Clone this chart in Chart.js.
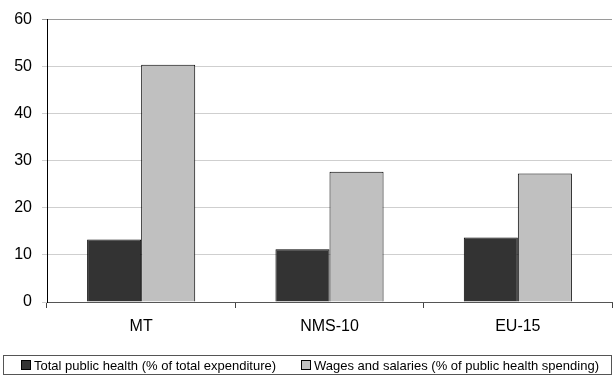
<!DOCTYPE html>
<html>
<head>
<meta charset="utf-8">
<script src="https://cdn.jsdelivr.net/npm/chart.js@4"></script>
<style>
  html, body { margin: 0; padding: 0; background: #fff; }
  #wrap { position: relative; width: 613px; height: 376px; overflow: hidden; font-family: "Liberation Sans", Arial, sans-serif; }
  #chart { position: absolute; left: 0; top: 0; }
  #legend { position: absolute; left: 3px; top: 355px; width: 609px; height: 20px; border: 1px solid #555; box-sizing: border-box; font-size: 13px; color: #000; }
  .item { position: absolute; top: 2px; white-space: nowrap; line-height: 15px; }
  .sw { display: inline-block; width: 8px; height: 8px; border: 1px solid #000; vertical-align: 0px; margin-right: 3px; }
</style>
</head>
<body>
<div id="wrap">
  <canvas id="chart" width="613" height="376"></canvas>
  <div id="legend"></div>
</div>
<script>
// Categories and series
const categories = ["MT", "NMS-10", "EU-15"];
const seriesNames = [
  "Total public health (% of total expenditure)",
  "Wages and salaries (% of public health spending)"
];
const totalPublicHealth = [13.3, 11.2, 13.7];
const wagesAndSalaries = [50.4, 27.7, 27.3];
const yTicks = [0, 10, 20, 30, 40, 50, 60];

const colors = ["#333333", "#c0c0c0"];

// HTML legend
const legend = document.getElementById("legend");
const legendX = [17, 297];
seriesNames.forEach((name, i) => {
  const el = document.createElement("div");
  el.className = "item";
  el.style.left = legendX[i] + "px";
  el.innerHTML = '<span class="sw" style="background:' + colors[i] + '"></span>' + name;
  legend.appendChild(el);
});

new Chart(document.getElementById("chart"), {
  type: "bar",
  data: {
    labels: categories,
    datasets: [
      { label: seriesNames[0], data: totalPublicHealth, backgroundColor: colors[0], borderColor: "#000", borderWidth: 1 },
      { label: seriesNames[1], data: wagesAndSalaries, backgroundColor: colors[1], borderColor: "#000", borderWidth: 1 }
    ]
  },
  options: {
    responsive: false,
    animation: false,
    layout: { padding: { top: 17, right: 1, left: 0, bottom: 0 } },
    plugins: { legend: { display: false }, tooltip: { enabled: false } },
    datasets: { bar: { barPercentage: 1.0, categoryPercentage: 0.574 } },
    scales: {
      x: {
        offset: true,
        grid: { display: true, offset: true, drawOnChartArea: false, drawTicks: true, tickLength: 6, color: "#444", lineWidth: 1 },
        border: { display: true, color: "#555", width: 1 },
        ticks: { color: "#000", font: { family: "Liberation Sans", size: 16 }, padding: 9 },
        afterFit: s => { s.height = 74; }
      },
      y: {
        min: 0, max: 60,
        afterBuildTicks: s => { s.ticks = yTicks.map(v => ({ value: v })); },
        grid: {
          color: c => (c.tick && c.tick.value === 60 ? "#9a9a9a" : "#cfcfcf"),
          lineWidth: 1, drawTicks: true, tickLength: 5
        },
        border: { display: true, color: "#000", width: 1 },
        ticks: { color: "#000", font: { family: "Liberation Sans", size: 16 }, padding: 10 },
        afterFit: s => { s.width = 47; }
      }
    }
  }
});
</script>
</body>
</html>
